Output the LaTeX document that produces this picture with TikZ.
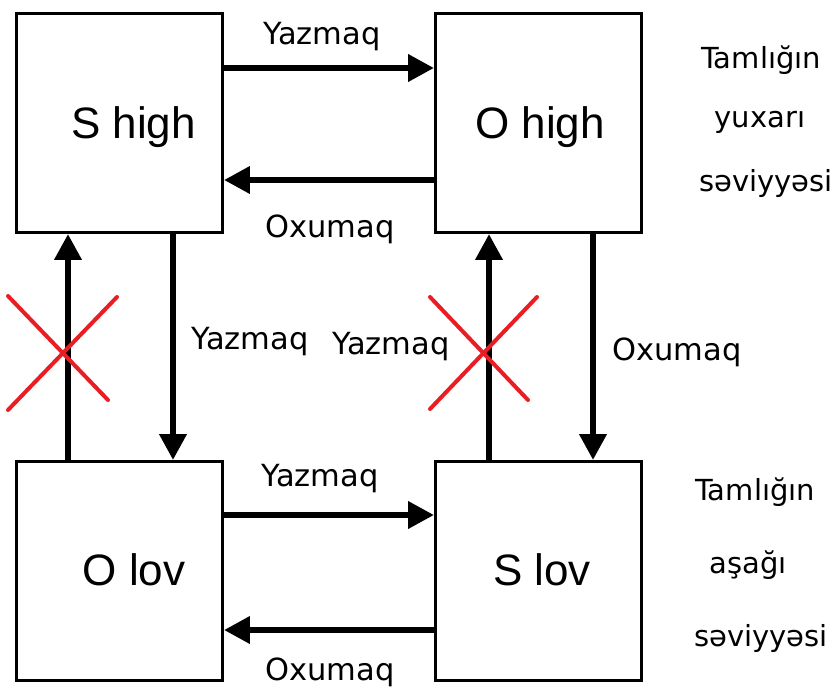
\documentclass[tikz,border=0pt]{standalone}
\usepackage{fontspec}
\setmainfont{DejaVu Sans}
\newfontfamily\statefont{Liberation Sans}
\usepackage{xcolor}
\usetikzlibrary{arrows.meta, positioning, calc}
\definecolor{crossred}{RGB}{232,30,36}

\begin{document}
\begin{tikzpicture}[
  x=1pt, y=-1pt,
  state/.style={rectangle, draw=black, line width=2.8pt, fill=white,
    minimum width=206pt, minimum height=219pt, inner sep=0pt},
  statelbl/.style={anchor=base, inner sep=0pt,
    font=\statefont\fontsize{44}{50}\selectfont},
  lbl/.style={inner sep=0pt, font=\fontsize{30.5}{36}\selectfont},
  side/.style={inner sep=0pt, font=\fontsize{29}{34}\selectfont},
  arr/.style={-{Triangle[length=26pt, width=26pt]}, line width=6.5pt},
  cross/.style={crossred, line width=4pt, line cap=round},
]
  \useasboundingbox (0,0) rectangle (835,691);

  % States
  \node[state] (shigh) at (119.5,123) {};
  \node[state] (ohigh) at (538.5,123) {};
  \node[state] (olov)  at (119.5,571) {};
  \node[state] (slov)  at (538.5,571) {};
  \node[statelbl] (shighlbl) at (133.5,138) {S high};
  \node[statelbl] (ohighlbl) at (540,138)   {O high};
  \node[statelbl] (olovlbl)  at (134,585)   {O lov};
  \node[statelbl] (slovlbl)  at (542,585)   {S lov};

  % Horizontal arrows
  \draw[arr] ([yshift=55pt]shigh.east) -- ([yshift=55pt]ohigh.west);
  \draw[arr] ([yshift=-57pt]ohigh.west) -- ([yshift=-57pt]shigh.east);
  \draw[arr] ([yshift=56pt]olov.east) -- ([yshift=56pt]slov.west);
  \draw[arr] ([yshift=-59pt]slov.west) -- ([yshift=-59pt]olov.east);

  % Vertical arrows
  \draw[arr] ([xshift=-51.5pt]olov.north) -- ([xshift=-51.5pt]shigh.south);
  \draw[arr] ([xshift=53.5pt]shigh.south) -- ([xshift=53.5pt]olov.north);
  \draw[arr] ([xshift=-49.5pt]slov.north) -- ([xshift=-49.5pt]ohigh.south);
  \draw[arr] ([xshift=54.5pt]ohigh.south) -- ([xshift=54.5pt]slov.north);

  % Forbidden transitions
  \draw[cross] (8,296) -- (108,400);
  \draw[cross] (117,297) -- (8,410);
  \draw[cross] (430,297) -- (528,400);
  \draw[cross] (537,297) -- (430,409);

  % Arrow labels
  \node[lbl] (w1) at (322,37)  {Yazmaq};
  \node[lbl] (r1) at (330,229) {Oxumaq};
  \node[lbl] (w2) at (250,342) {Yazmaq};
  \node[lbl] (w3) at (391,347) {Yazmaq};
  \node[lbl] (r2) at (677,352) {Oxumaq};
  \node[lbl] (w4) at (320,479) {Yazmaq};
  \node[lbl] (r3) at (330,672) {Oxumaq};

  % Level labels
  \node[side] (hi1) at (761,60)  {Tamlığın};
  \node[side] (hi2) at (760,122) {yuxarı};
  \node[side] (hi3) at (766,183) {səviyyəsi};
  \node[side] (lo1) at (755,492) {Tamlığın};
  \node[side] (lo2) at (748,565) {aşağı};
  \node[side] (lo3) at (761,638) {səviyyəsi};
\end{tikzpicture}
\end{document}
